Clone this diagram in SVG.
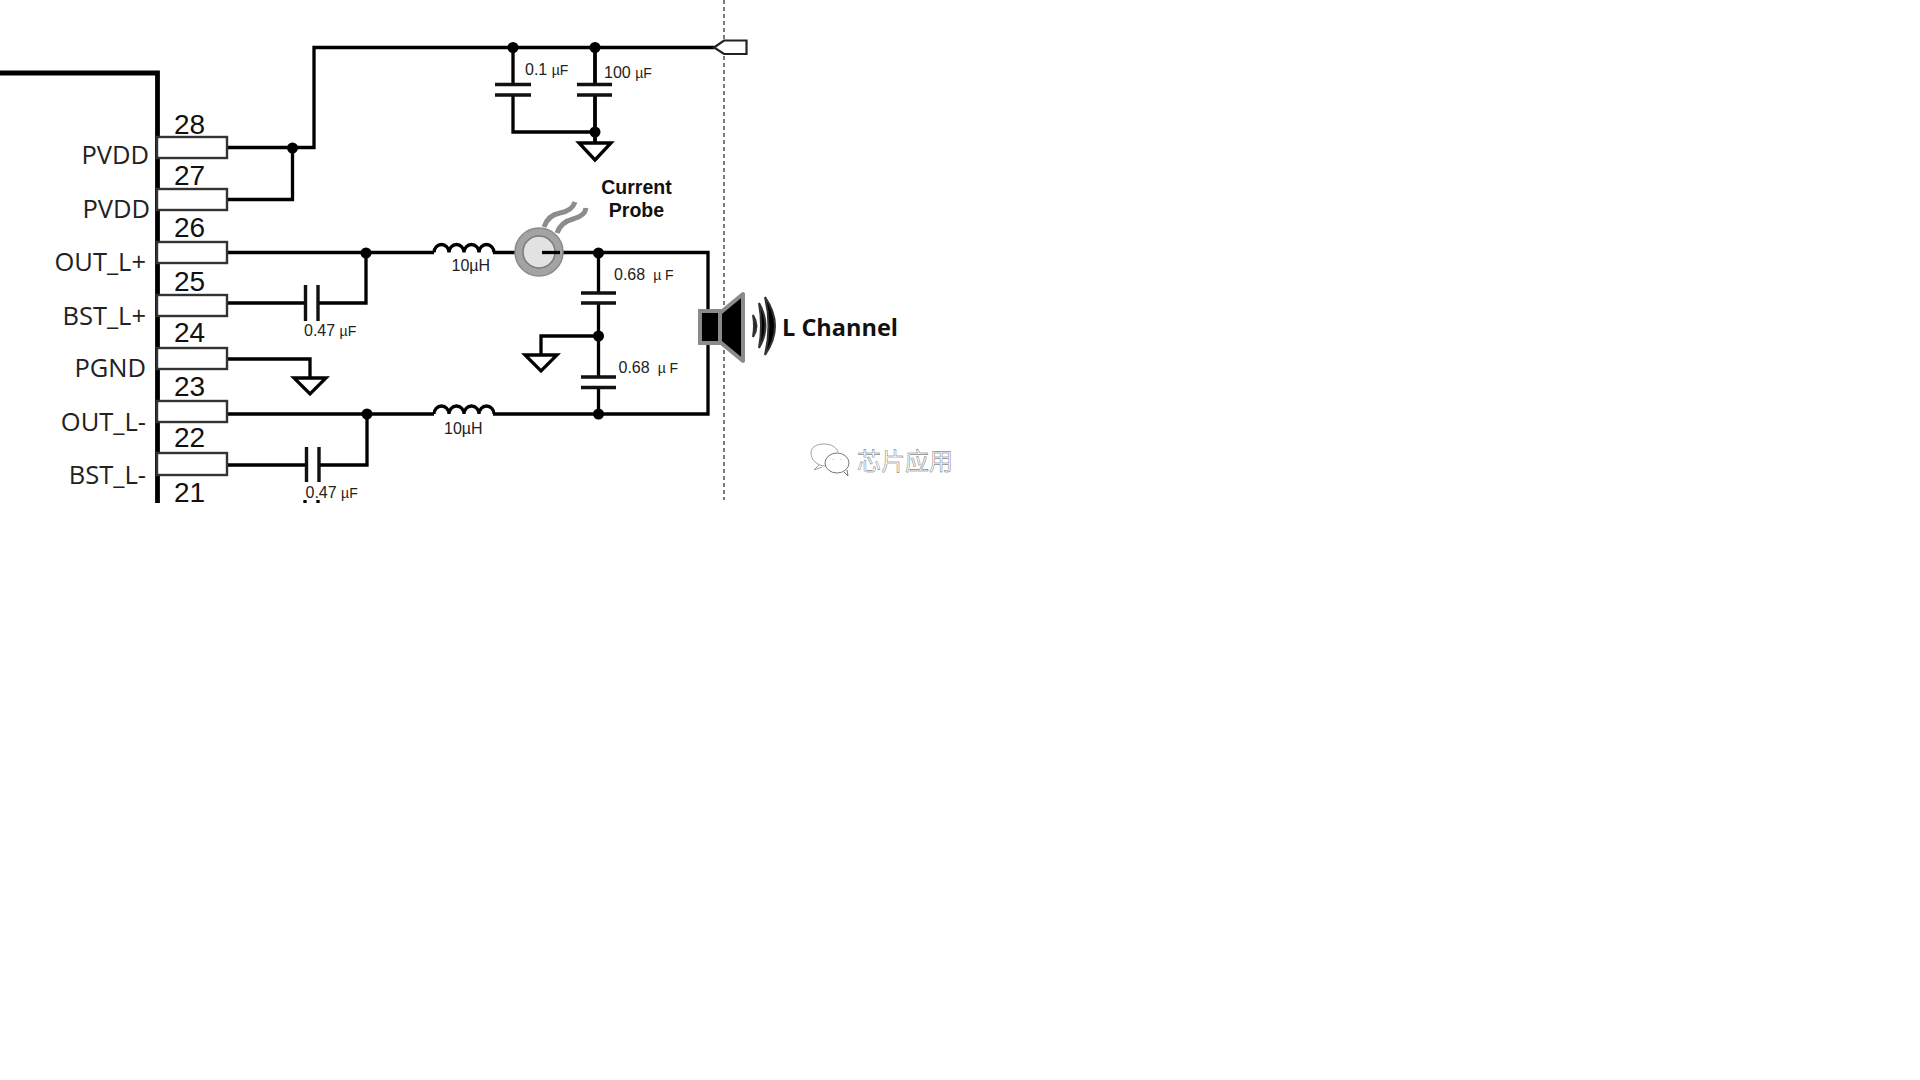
<svg xmlns="http://www.w3.org/2000/svg" width="1920" height="1080" viewBox="0 0 1920 1080">
<style>
.w{fill:none;stroke:#000;stroke-width:3.300}
.pin{fill:#fff;stroke:#333;stroke-width:2.400}
.plate{fill:none;stroke:#111;stroke-width:3.400}
.gnd{fill:#fff;stroke:#000;stroke-width:3.300;stroke-linejoin:miter}
.num{font:28px "Liberation Sans",Arial,sans-serif;fill:#111}
.lab{font:25.500px "Open Sans","Noto Sans",sans-serif;fill:#222;text-anchor:end}
.sm{font:16px "Liberation Sans",Arial,sans-serif;fill:#222}
.u{font-size:14px}
.bold{font:bold 19.500px "Liberation Sans",Arial,sans-serif;fill:#111;text-anchor:middle}
</style>
<defs>
<clipPath id="c"><rect x="0" y="0" width="1920" height="503"/></clipPath>
<path id="ind" class="w" d="M0 0a7.500 8 0 0 1 15 0a7.500 8 0 0 1 15 0a7.500 8 0 0 1 15 0a7.500 8 0 0 1 15 0"/>
</defs>
<g id="chip"><path d="M0 73H157.500V503" fill="none" stroke="#000" stroke-width="4.800"/></g>
<path id="frame" d="M724 0V500" fill="none" stroke="#222" stroke-width="1.200" stroke-dasharray="4 3"/>
<g id="connectors">
<path class="w" d="M227 147.500H314V47.500H714"/>
<path class="w" d="M227 199.500H292.500V147.500"/>
<path class="w" d="M227 252.500H434M493 252.500H516M542 252.500H708V414H493M434 414H227"/>
<path class="w" d="M366 252.500V303H318M305 303H227"/>
<path class="w" d="M367 414V465H319M306 465H227"/>
<path class="w" d="M227 359H310V378"/>
<path class="w" d="M513 47.500V84M513 95V132H595"/>
<path class="w" style="stroke-width:3.800" d="M595 47.500V84M595 95V143"/>
<path class="w" d="M598.500 253V292M598.500 303V377M598.500 387V414"/>
<path class="w" d="M598.500 336H541V355"/>
<path class="w" d="M305 500V503M318 500V503"/>
</g>
<g id="dots">
<circle cx="292.500" cy="148" r="5.500"/><circle cx="366" cy="253" r="5.500"/><circle cx="367" cy="414" r="5.500"/>
<circle cx="513" cy="47.500" r="5.500"/><circle cx="595" cy="47.500" r="5.500"/><circle cx="595" cy="132" r="5.500"/>
<circle cx="598.500" cy="253" r="5.500"/><circle cx="598.500" cy="336" r="5.500"/><circle cx="598.500" cy="414" r="5.500"/>
</g>
<g id="pin28"><rect class="pin" x="157" y="137" width="70" height="21"/><text class="num" x="174" y="133.500">28</text><text class="lab" x="149" y="164">PVDD</text></g>
<g id="pin27"><rect class="pin" x="157" y="189" width="70" height="21"/><text class="num" x="174" y="185">27</text><text class="lab" x="150" y="218">PVDD</text></g>
<g id="pin26"><rect class="pin" x="157" y="242" width="70" height="21"/><text class="num" x="174" y="237">26</text><text class="lab" x="146" y="271">OUT_L+</text></g>
<g id="pin25"><rect class="pin" x="157" y="295" width="70" height="21"/><text class="num" x="174" y="291">25</text><text class="lab" x="146" y="324.500">BST_L+</text></g>
<g id="pin24"><rect class="pin" x="157" y="348" width="70" height="21"/><text class="num" x="174" y="342">24</text><text class="lab" x="146" y="377">PGND</text></g>
<g id="pin23"><rect class="pin" x="157" y="401" width="70" height="21"/><text class="num" x="174" y="396">23</text><text class="lab" x="146" y="431">OUT_L-</text></g>
<g id="pin22"><rect class="pin" x="157" y="453" width="70" height="22"/><text class="num" x="174" y="447">22</text><text class="lab" x="146" y="484">BST_L-</text></g>
<g id="pin21" clip-path="url(#c)"><text class="num" x="174" y="502">21</text></g>
<g id="C_bst_p"><path class="plate" d="M305.500 285V321M318 285V321"/><text class="sm" x="304" y="336">0.47 <tspan class="u">µF</tspan></text></g>
<g id="C_bst_n"><path class="plate" d="M306.500 447V482M319 447V482"/><text class="sm" x="305.500" y="498">0.47 <tspan class="u">µF</tspan></text></g>
<g id="gnd_pgnd"><path class="gnd" d="M294 378H326L310 394Z"/></g>
<g id="L1"><use href="#ind" x="434" y="252.500"/><text class="sm" x="451.500" y="271">10µH</text></g>
<g id="L2"><use href="#ind" x="434" y="414"/><text class="sm" x="444" y="434">10µH</text></g>
<g id="C_01"><path class="plate" d="M495 84.500H531M495 95H531"/><text class="sm" x="525" y="74.500">0.1 <tspan class="u">µF</tspan></text></g>
<g id="C_100"><path class="plate" d="M577 84.500H612M577 95H612"/><text class="sm" x="604" y="78">100 <tspan class="u">µF</tspan></text></g>
<g id="gnd_top"><path class="gnd" d="M579 143H611L595 160Z"/></g>
<g id="vout"><path d="M714 47.500L724 40.500H746.500V54H724Z" fill="#fff" stroke="#222" stroke-width="2.200"/></g>
<g id="probe">
<path d="M544 227Q548 215 560 213T575 202M557 233Q561 222 573 219T586 208" fill="none" stroke="#8c8c8c" stroke-width="5"/>
<circle cx="539" cy="252" r="24" fill="#a3a3a3" stroke="#8a8a8a" stroke-width="1.500"/>
<circle cx="539" cy="252" r="16" fill="#e2e2e2" stroke="#7a7a7a" stroke-width="1.500"/>
<path class="w" d="M542 252.500H560"/>
<text class="bold"><tspan x="636.500" y="193.500">Current</tspan><tspan x="636.500" y="216.500">Probe</tspan></text>
</g>
<g id="C_068a"><path class="plate" d="M581 293H616M581 303H616"/><text class="sm" x="614" y="280">0.68<tspan class="u" dx="8">µ F</tspan></text></g>
<g id="C_068b"><path class="plate" d="M581 377H616M581 387.500H616"/><text class="sm" x="618.500" y="373">0.68<tspan class="u" dx="8">µ F</tspan></text></g>
<g id="gnd_mid"><path class="gnd" d="M525 355H557L541 371Z"/></g>
<g id="speaker">
<rect x="700" y="311" width="20" height="32" fill="#000" stroke="#8a8a8a" stroke-width="4"/>
<path d="M720 313L743 294V361L720 342Z" fill="#000" stroke="#8a8a8a" stroke-width="4" stroke-linejoin="round"/>
<path d="M753 315Q760 326 753 337Q755 326 753 315ZM759 303Q772 326 759 348Q763 326 759 303ZM765 297Q785 326 765 355Q772 326 765 297Z" fill="#000" stroke="#333" stroke-width="2"/>
<text x="782" y="336" font-family="'Open Sans','Noto Sans',sans-serif" font-weight="700" font-size="23.500" fill="#111">L Channel</text>
</g>
<g id="watermark">
<path d="M826 466C816 466 811 459 811 453C811 446 818 444 824 444C832 444 837 448 838 452M819 465L814 470L822 467" fill="#fff" stroke="#888" stroke-width=".8"/>
<ellipse cx="837" cy="463" rx="12" ry="10" fill="#fff" stroke="#666" stroke-width=".9"/>
<path d="M844 472L848 476L847 470M833 459v.5M841 459v.5" fill="none" stroke="#666" stroke-width=".9"/>
<text x="857" y="470" font-family="'Noto Sans CJK SC',sans-serif" font-size="24" fill="#fff" stroke="#555" stroke-width=".4">芯片应用</text>
</g>
</svg>
